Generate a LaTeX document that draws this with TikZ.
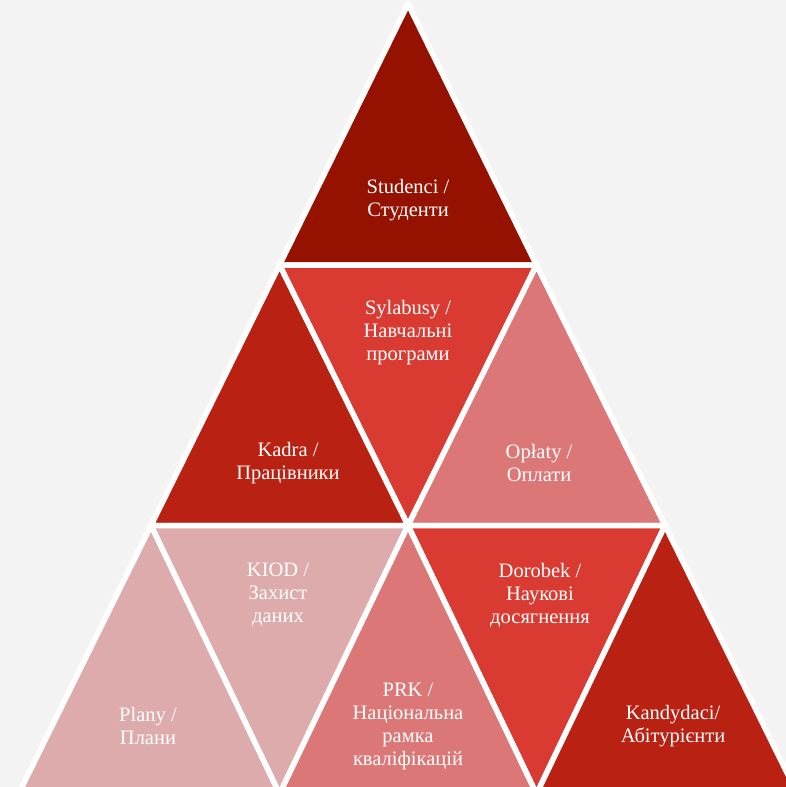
\documentclass[tikz,border=0pt]{standalone}
\usepackage{fontspec}
\setmainfont{Liberation Serif}
\definecolor{bgc}{HTML}{F3F3F3}
\definecolor{cdark}{HTML}{951200}
\definecolor{cred}{HTML}{B92113}
\definecolor{cmid}{HTML}{D93B33}
\definecolor{clight}{HTML}{DB7877}
\definecolor{cpale}{HTML}{DDABAB}
\begin{document}
\begin{tikzpicture}[x=1pt,y=-1pt,
  tri/.style={draw=white,line width=5.5pt,line join=miter},
  lbl/.style={text=white,align=center,font=\fontsize{20.5}{23}\selectfont,inner sep=0pt}]
\useasboundingbox (0,0) rectangle (786,787);
\fill[bgc] (0,0) rectangle (786,787);
\clip (0,0) rectangle (786,787);
% lattice
\coordinate (p00) at (408,4);
\coordinate (p10) at (279.5,265);
\coordinate (p11) at (536.5,265);
\coordinate (p20) at (151,525.5);
\coordinate (p21) at (408,525.5);
\coordinate (p22) at (665,525.5);
\coordinate (p30) at (18.5,794);
\coordinate (p31) at (279.5,794);
\coordinate (p32) at (536.5,794);
\coordinate (p33) at (797.5,794);
% row 1
\filldraw[tri,fill=cdark] (p00) -- (p10) -- (p11) -- cycle;
% row 2
\filldraw[tri,fill=cmid] (p10) -- (p11) -- (p21) -- cycle;
\filldraw[tri,fill=cred] (p10) -- (p20) -- (p21) -- cycle;
\filldraw[tri,fill=clight] (p11) -- (p21) -- (p22) -- cycle;
% row 3
\filldraw[tri,fill=cpale] (p20) -- (p21) -- (p31) -- cycle;
\filldraw[tri,fill=cmid] (p21) -- (p22) -- (p32) -- cycle;
\filldraw[tri,fill=cpale] (p20) -- (p30) -- (p31) -- cycle;
\filldraw[tri,fill=clight] (p21) -- (p31) -- (p32) -- cycle;
\filldraw[tri,fill=cred] (p22) -- (p32) -- (p33) -- cycle;
% labels
\node[lbl] (studenci) at (408,200) {Studenci /\\Студенти};
\node[lbl] (sylabusy) at (408,333) {Sylabusy /\\Навчальні\\програми};
\node[lbl] (kadra) at (288,463) {Kadra /\\Працівники};
\node[lbl] (oplaty) at (539,463) {Opłaty /\\Оплати};
\node[lbl] (kiod) at (278,595) {KIOD /\\Захист\\даних};
\node[lbl] (dorobek) at (540,595) {Dorobek /\\Наукові\\досягнення};
\node[lbl] (plany) at (148,726) {Plany /\\Плани};
\node[lbl] (prk) at (408,726) {PRK /\\Національна\\рамка\\кваліфікацій};
\node[lbl] (kandydaci) at (673,726) {Kandydaci/\\Абітурієнти};
\end{tikzpicture}
\end{document}
